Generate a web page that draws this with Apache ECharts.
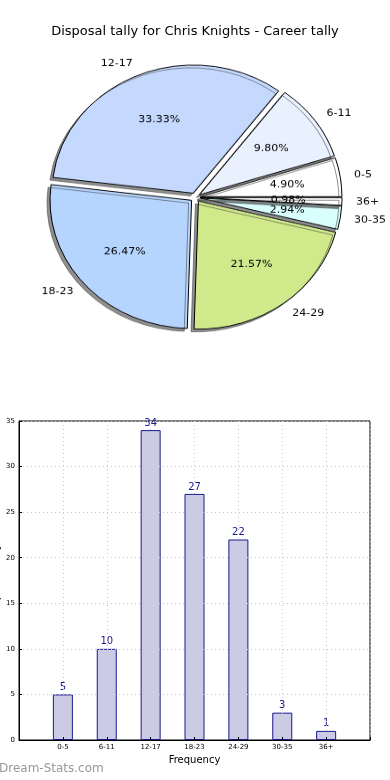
<!DOCTYPE html>
<html><head><meta charset="utf-8">
<script src="https://cdn.jsdelivr.net/npm/echarts@6/dist/echarts.min.js"></script>
<style>
html,body{margin:0;padding:0;background:#fff;}
#bar{position:absolute;left:0;top:0;width:390px;height:780px;}
#pie{position:absolute;left:0;top:0;width:390px;height:400px;transform:scaleY(0.905);transform-origin:0 0;}
</style></head>
<body>
<div id="bar"></div>
<div id="pie"></div>
<script>
const categories = ['0-5','6-11','12-17','18-23','24-29','30-35','36+'];
const tallies = [5, 10, 34, 27, 22, 3, 1];
const sliceColors = ['#ffffff','#e9f1fe','#c5d9fe','#b6d5fe','#d0ea8b','#d9fefe','#ffffff'];
const yTicks = [0,5,10,15,20,25,30,35];
const titleText = 'Disposal tally for Chris Knights - Career tally';

const FONT = 'DejaVu Sans';
const total = tallies.reduce((a,b)=>a+b,0);

// ---------- Bar chart + title ----------
const bar = echarts.init(document.getElementById('bar'), null, {renderer:'canvas'});
bar.setOption({
  animation:false,
  title:[
    {text:titleText, left:'center', top:20, textStyle:{fontFamily:FONT, fontSize:13, fontWeight:'normal', color:'#000'}},
    {text:'Dream-Stats.com', left:-1, top:763, padding:0, textStyle:{fontFamily:FONT, fontSize:12, fontWeight:'normal', color:'#999'}}
  ],
  grid:{left:19, right:20, top:421, bottom:40, show:true, borderColor:'#000', borderWidth:1,
        backgroundColor:'transparent', containLabel:false, outerBoundsMode:'none'},
  xAxis:{
    type:'value', min:0, max:categories.length+1, interval:1, z:5,
    name:'Frequency', nameLocation:'middle', nameGap:15,
    nameTextStyle:{fontFamily:FONT, fontSize:10, color:'#000'},
    axisLine:{show:true, lineStyle:{color:'#000'}},
    axisTick:{show:true, inside:true, length:3, lineStyle:{color:'#000'}},
    axisLabel:{fontFamily:FONT, fontSize:7, color:'#000', margin:4,
      formatter:v => (v>=1 && v<=categories.length) ? categories[v-1] : ''},
    splitLine:{show:true, lineStyle:{color:'#c8c8c8', type:[1,3], width:1}}
  },
  yAxis:{
    type:'value', min:yTicks[0], max:yTicks[yTicks.length-1], interval:5, z:5,
    name:'Disposal Tally', nameLocation:'middle', nameGap:17, nameMoveOverlap:false,
    nameTextStyle:{fontFamily:FONT, fontSize:11, color:'#000'},
    axisLine:{show:true, lineStyle:{color:'#000'}},
    axisTick:{show:true, inside:true, length:3, lineStyle:{color:'#000'}},
    axisLabel:{fontFamily:FONT, fontSize:7, color:'#000', margin:4},
    splitLine:{show:true, lineStyle:{color:'#c8c8c8', type:[1,3], width:1}}
  },
  series:[{
    type:'bar', z:2,
    data: tallies.map((v,i)=>[i+1, v]),
    barWidth:20,
    itemStyle:{color:'#cbcbe5', borderColor:'#1a1a8c', borderWidth:1},
    label:{show:true, position:'top', distance:2, fontFamily:FONT, fontSize:10, color:'#1a1a8c',
      formatter:p=>String(p.value[1])}
  }]
});

// ---------- Pie ----------
const pie = echarts.init(document.getElementById('pie'), null, {renderer:'canvas'});
const R = 141.6;
const CX = 195.4, CY = 218.1;
const pieData = categories.map((c,i)=>({name:c, value:tallies[i], selected:true,
  itemStyle:{color:sliceColors[i]}}));
pie.setOption({
  animation:false,
  series:[
    {
      type:'pie', center:[CX,CY], radius:[0,R], clockwise:false, startAngle:0,
      selectedMode:'multiple', selectedOffset:5, avoidLabelOverlap:false, silent:true,
      emphasis:{disabled:true}, labelLayout:{hideOverlap:false},
      itemStyle:{borderColor:'#000', borderWidth:1, shadowColor:'rgba(70,70,70,0.6)', shadowBlur:0, shadowOffsetX:-3, shadowOffsetY:3},
      label:{show:true, position:'outside', formatter:'{b}', fontFamily:FONT, fontSize:11, color:'#000', distanceToLabelLine:0},
      labelLine:{show:false, length:14, length2:0},
      data:pieData
    },
    {
      type:'pie', center:[CX,CY], radius:[R*0.2,R], clockwise:false, startAngle:0,
      selectedMode:'multiple', selectedOffset:5, avoidLabelOverlap:false, silent:true,
      emphasis:{disabled:true}, labelLayout:{hideOverlap:false},
      itemStyle:{color:'rgba(0,0,0,0)', borderWidth:0},
      label:{show:true, position:'inside', fontFamily:FONT, fontSize:11, color:'#000',
        formatter:p=>(p.value/total*100).toFixed(2)+'%'},
      labelLine:{show:false},
      data:categories.map((c,i)=>({name:c, value:tallies[i], selected:true}))
    }
  ]
});
</script>
</body></html>
